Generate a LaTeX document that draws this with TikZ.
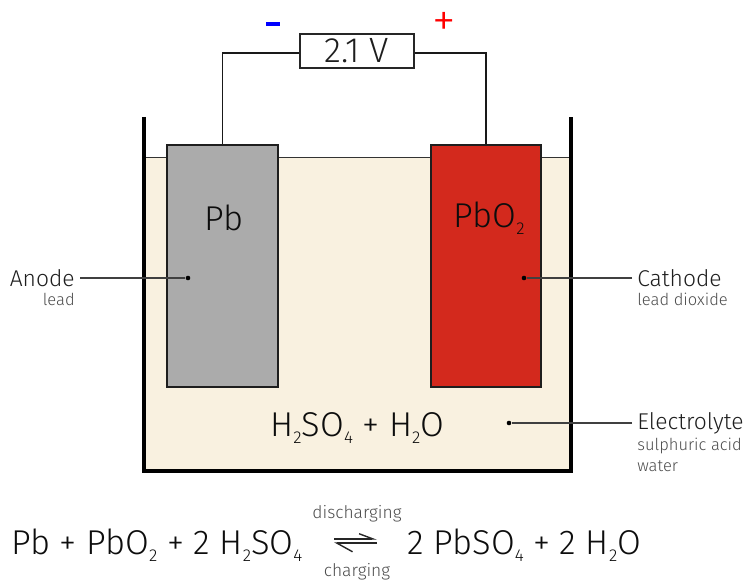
\documentclass[tikz,border=0pt]{standalone}
\usepackage{fontspec}
\setmainfont{Fira Sans Light}
\usetikzlibrary{arrows.meta}
\definecolor{acidfill}{RGB}{249,241,224}
\definecolor{leadgrey}{RGB}{171,171,171}
\definecolor{oxidered}{RGB}{211,41,29}
\definecolor{inkgrey}{RGB}{30,30,30}
\newcommand{\chemsub}[1]{\raisebox{-0.2em}{\scalebox{0.5}{#1}}}
\tikzset{
  plate/.style={draw=inkgrey,line width=1.1pt,minimum width=63pt,minimum height=137.5pt,inner sep=0pt},
  leader/.style={black!75,line width=0.7pt},
  tip/.style={circle,fill=black,inner sep=0pt,minimum size=2.6pt},
  wire/.style={black!90,line width=1.1pt},
  maintext/.style={font=\fontsize{13}{15}\selectfont,text=inkgrey,inner sep=0pt},
  subtext/.style={font=\fontsize{9.4}{11.6}\selectfont,text=black!70,inner sep=0pt,align=left},
  formula/.style={font=\fontsize{19.6}{22}\selectfont,text=black!95,inner sep=0pt,anchor=base west},
  flowlabel/.style={font=\fontsize{9.9}{11}\selectfont,text=black!70,inner sep=0pt},
}
\begin{document}
\begin{tikzpicture}[x=0.02cm,y=-0.02cm,line join=miter]
\useasboundingbox (0,0) rectangle (747,580);
% electrolyte and tank
\fill[acidfill] (144,157) rectangle (571,471);
\draw[black!80,line width=0.5pt] (144,157) -- (571,157);
\draw[black,line width=1.9pt] (144,117) -- (144,471) -- (571,471) -- (571,117);
% plates
\node[plate,fill=leadgrey] (anodeplate) at (222.5,266) {};
\node[plate,fill=oxidered] (cathodeplate) at (486,266) {};
\node[formula,anchor=center] (pblabel) at (224,218) {Pb};
\node[formula,anchor=center] (pbotwolabel) at (489,218) {PbO\chemsub{2}};
% voltmeter
\node[draw=black!85,line width=1pt,fill=white,minimum width=65pt,minimum height=19pt,inner sep=0pt,font=\fontsize{20}{22}\selectfont,text=inkgrey] (meter) at (357,51) {2.1 V};
\draw[wire] ([yshift=-1.1pt]meter.west) -| (anodeplate.north);
\draw[wire] ([yshift=-1.1pt]meter.east) -| (cathodeplate.north);
\node[fill=blue,inner sep=0pt,minimum width=8pt,minimum height=1.8pt] (minus) at (273,24) {};
\node[text=red,inner sep=0pt,font=\fontsize{27}{27}\selectfont] (plus) at (444,24.5) {+};
% callouts
\node[tip] (anodetip) at (188,278) {};
\node[tip] (cathodetip) at (524,278) {};
\node[tip] (acidtip) at (509,423) {};
\node[maintext,anchor=east] (anode) at (75,278) {Anode};
\node[subtext,anchor=north east] (anodesub) at (75,293) {lead};
\node[maintext,anchor=west] (cathode) at (637,278) {Cathode};
\node[subtext,anchor=north west] (cathodesub) at (637,293) {lead dioxide};
\node[maintext,anchor=west] (electrolyte) at (637,423) {Electrolyte};
\node[subtext,anchor=north west] (acidsub) at (637,438) {sulphuric acid\\water};
\draw[leader] (anode.east) ++(5,0) -- (anodetip);
\draw[leader] (cathode.west) ++(-5,0) -- (cathodetip);
\draw[leader] (electrolyte.west) ++(-5,0) -- (acidtip);
\node[formula] (acid) at (270,437) {H\chemsub{2}SO\chemsub{4} + H\chemsub{2}O};
% reaction
\node[formula] (lefthand) at (11,555) {Pb + PbO\chemsub{2} + 2 H\chemsub{2}SO\chemsub{4}};
\node[formula] (righthand) at (407,555) {2 PbSO\chemsub{4} + 2 H\chemsub{2}O};
\node[flowlabel] (discharging) at (357,514) {discharging};
\node[flowlabel] (charging) at (357,572) {charging};
\coordinate (topleft) at (334,539);
\coordinate (topright) at (377,539);
\coordinate (botleft) at (334,543);
\coordinate (botright) at (377,543);
\draw[black!85,line width=0.8pt,-{Straight Barb[left,length=8pt,width=6pt]}] (topleft) -- (topright);
\draw[black!85,line width=0.8pt,-{Straight Barb[left,length=9pt,width=10pt]}] (botright) -- (botleft);
\end{tikzpicture}
\end{document}
